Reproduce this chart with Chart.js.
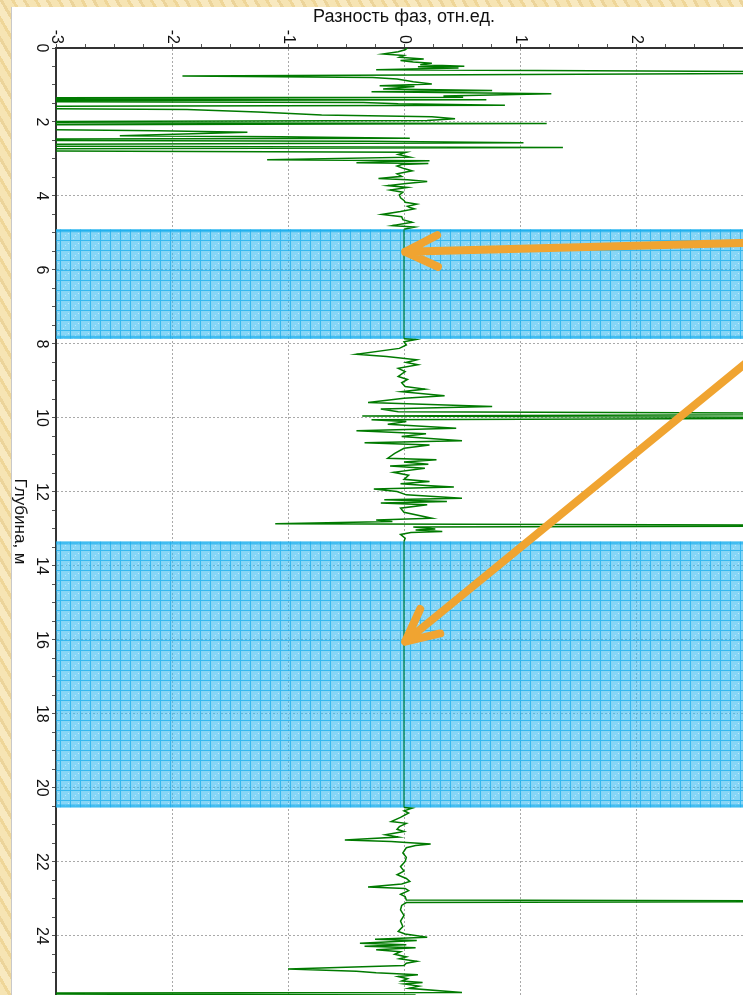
<!DOCTYPE html>
<html>
<head>
<meta charset="utf-8">
<script src="https://cdn.jsdelivr.net/npm/chart.js@4.4.0/dist/chart.umd.min.js"></script>
<style>
  body {
    margin: 0;
    width: 743px;
    height: 995px;
    overflow: hidden;
    position: relative;
    background: repeating-linear-gradient(60deg, #f6e4b3 0 7px, #efd698 7px 10px, #f8e9c0 10px 17px, #ecd49a 17px 20px);
  }
  #panel {
    position: absolute;
    left: 11px; top: 7px; right: 0; bottom: 0;
    background: #fff;
    border-left: 1px solid #c9c9c9;
  }
  #box {
    position: absolute;
    left: 0; top: 0;
    width: 770px; height: 1000px;
  }
</style>
</head>
<body>
<div id="panel"></div>
<div id="box"><canvas id="myChart"></canvas></div>
<script>
// depth, m (vertical axis, downwards)
var depth = [
  0.00, 0.05, 0.10, 0.16, 0.20, 0.25, 0.30, 0.34, 0.38, 0.41, 0.45, 0.49, 0.51, 0.54, 0.59, 0.665,
  0.76, 0.80, 0.84, 0.91, 0.97, 1.02, 1.04, 1.11, 1.15, 1.18, 1.24, 1.30, 1.33, 1.36, 1.40, 1.43,
  1.47, 1.51, 1.55, 1.59, 1.66, 1.73, 1.77, 1.81, 1.86, 1.91, 1.96, 2.01, 2.04, 2.10, 2.24, 2.28,
  2.37, 2.40, 2.44, 2.48, 2.52, 2.56, 2.63, 2.69, 2.75, 2.82, 2.88, 2.95, 3.02, 3.05, 3.08, 3.10,
  3.12, 3.15, 3.19, 3.26, 3.32, 3.40, 3.47, 3.53, 3.56, 3.61, 3.66, 3.72, 3.77, 3.84, 3.90, 3.97,
  4.05, 4.12, 4.17, 4.22, 4.28, 4.31, 4.35, 4.42, 4.50, 4.56, 4.64, 4.71, 4.80, 4.84, 4.89,
  4.90, 7.86,
  7.88, 7.94, 8.03, 8.12, 8.28, 8.34, 8.43, 8.50, 8.56, 8.66, 8.75, 8.88, 8.96, 9.05, 9.15, 9.22,
  9.29, 9.40, 9.47, 9.58, 9.69, 9.76, 9.83, 9.895, 9.95, 10.00, 10.05, 10.10, 10.17, 10.28, 10.35, 10.43,
  10.50, 10.62, 10.67, 10.73, 10.82, 10.96, 11.09, 11.13, 11.19, 11.25, 11.30, 11.36, 11.47, 11.55, 11.66, 11.72,
  11.78, 11.83, 11.87, 11.92, 11.99, 12.08, 12.17, 12.21, 12.26, 12.30, 12.35, 12.44, 12.55, 12.71, 12.76, 12.80,
  12.86, 12.91, 12.95, 13.00, 13.03, 13.07, 13.10, 13.15, 13.25, 13.34,
  20.53,
  20.55, 20.62, 20.68, 20.80, 20.91, 20.96, 21.05, 21.12, 21.18, 21.27, 21.33, 21.41, 21.45, 21.48, 21.52, 21.56,
  21.62, 21.76, 21.88, 21.99, 22.13, 22.25, 22.35, 22.45, 22.53, 22.60, 22.68, 22.72, 22.78, 22.88, 22.94, 23.03,
  23.065, 23.10, 23.18, 23.30, 23.45, 23.60, 23.75, 23.88, 23.95, 24.04, 24.09, 24.13, 24.20, 24.24, 24.28, 24.32,
  24.38, 24.43, 24.50, 24.57, 24.62, 24.69, 24.74, 24.80, 24.90, 24.96, 25.00, 25.05, 25.10, 25.16, 25.22, 25.26,
  25.30, 25.36, 25.42, 25.53, 25.56, 25.60
];
// phase difference, rel. units
var phase = [
  0.03, 0.01, -0.05, -0.18, 0.00, -0.04, 0.17, -0.03, 0.08, 0.24, 0.14, 0.52, 0.12, 0.47, -0.24, 5.0,
  -1.91, -0.27, -0.06, 0.08, 0.24, -0.21, 0.09, -0.18, 0.76, -0.28, 1.27, 0.34, 0.51, -6.0, 0.71, -6.0,
  -0.35, -0.05, 0.87, -6.0, -1.87, -1.26, -0.98, -0.71, 0.24, 0.44, 0.20, -6.0, 1.23, -6.0, -2.12, -1.35,
  -2.45, -1.07, 0.05, -6.0, -0.30, 1.03, -6.0, 1.37, -6.0, 0.02, -0.05, 0.05, -1.18, 0.22, -0.20, -0.41,
  0.21, -0.02, -0.06, 0.00, 0.07, -0.06, -0.02, -0.22, 0.03, 0.20, 0.02, -0.14, 0.03, -0.12, -0.01, -0.04,
  -0.03, 0.00, 0.01, 0.11, 0.03, 0.05, 0.09, -0.03, -0.19, -0.02, -0.01, 0.07, -0.10, 0.09, 0.01,
  0.00, 0.00,
  0.10, 0.00, 0.02, -0.04, -0.41, -0.15, 0.11, 0.02, 0.12, -0.05, 0.01, -0.05, 0.03, -0.02, 0.01, 0.18,
  -0.02, 0.35, 0.00, -0.31, 0.76, -0.20, -0.05, 5.0, -0.36, 5.0, -0.28, 0.02, -0.14, 0.45, -0.41, 0.19,
  -0.02, 0.50, -0.34, 0.22, 0.00, -0.08, -0.14, 0.28, 0.00, 0.21, -0.12, 0.18, -0.09, 0.04, 0.00, 0.22,
  -0.03, 0.19, 0.43, -0.26, -0.06, 0.02, 0.50, -0.17, 0.37, -0.20, 0.20, -0.03, 0.00, 0.24, -0.24, -0.10,
  -1.11, 5.0, 0.08, 0.27, 0.10, 0.33, 0.06, -0.03, 0.01, 0.00,
  0.00,
  0.07, 0.00, 0.04, -0.03, -0.11, 0.02, -0.04, -0.06, 0.00, -0.16, -0.05, -0.51, -0.11, 0.02, 0.23, 0.10,
  0.02, -0.01, 0.02, 0.01, -0.03, 0.00, -0.06, 0.02, 0.05, -0.02, -0.31, 0.01, 0.04, -0.03, 0.01, 0.02,
  5.0, 0.02, -0.02, -0.03, 0.00, -0.03, -0.01, -0.05, 0.01, 0.20, -0.25, 0.11, -0.38, 0.02, -0.34, 0.10,
  -0.24, -0.03, -0.08, 0.02, -0.04, 0.11, 0.02, 0.00, -1.00, -0.41, -0.24, 0.12, -0.05, 0.03, -0.02, 0.16,
  0.00, 0.13, 0.04, 0.50, -5.0, 0.10
];
// highlighted depth intervals, m
var bandTop = [4.9, 13.34];
var bandBottom = [7.86, 20.53];
// tick labels
var xLabels = [-3, -2, -1, 0, 1, 2, 3];
var yLabels = [0, 2, 4, 6, 8, 10, 12, 14, 16, 18, 20, 22, 24];
// arrows: [phase, depth] of tip and tail
var arrowTip = [[0.01, 5.51], [0.01, 16.05]];
var arrowTail = [[3.16, 5.25], [3.16, 7.97]];

var FONT = "'Liberation Sans', Arial, sans-serif";

var points = [];
for (var i = 0; i < depth.length; i++) {
    points.push({ x: phase[i], y: depth[i] });
}

function inBand(d0, d1) {
    for (var i = 0; i < bandTop.length; i++) {
        if (d0 >= bandTop[i] && d1 <= bandBottom[i]) return true;
    }
    return false;
}

// light blue squared fill for the bands
function makeHatch(ctx) {
    var c = document.createElement('canvas');
    c.width = 10;
    c.height = 10;
    var g = c.getContext('2d');
    g.fillStyle = 'rgba(60,187,240,0.62)';
    g.fillRect(0, 0, 10, 10);
    g.fillStyle = 'rgba(20,172,236,0.7)';
    g.fillRect(0, 0, 1, 10);
    g.fillRect(1, 0, 9, 1);
    g.fillStyle = 'rgba(255,255,255,0.5)';
    g.fillRect(5, 5, 1, 1);
    g.fillRect(3, 8, 1, 1);
    g.fillRect(8, 3, 1, 1);
    return ctx.createPattern(c, 'repeat');
}

function drawArrow(ctx, x1, y1, x2, y2) {
    var ang = Math.atan2(y1 - y2, x1 - x2);
    var head = 36, spread = 26 * Math.PI / 180;
    ctx.beginPath();
    ctx.moveTo(x1, y1);
    ctx.lineTo(x2, y2);
    ctx.moveTo(x2 + head * Math.cos(ang - spread), y2 + head * Math.sin(ang - spread));
    ctx.lineTo(x2, y2);
    ctx.lineTo(x2 + head * Math.cos(ang + spread), y2 + head * Math.sin(ang + spread));
    ctx.stroke();
}

var decor = {
    id: 'decor',
    beforeDatasetsDraw: function (chart) {
        var ctx = chart.ctx, a = chart.chartArea, ys = chart.scales.y;
        ctx.save();
        ctx.beginPath();
        ctx.rect(a.left, a.top, a.right - a.left, a.bottom - a.top);
        ctx.clip();
        var pat = makeHatch(ctx);
        for (var i = 0; i < bandTop.length; i++) {
            var t = ys.getPixelForValue(bandTop[i]);
            var b = ys.getPixelForValue(bandBottom[i]);
            ctx.fillStyle = pat;
            ctx.fillRect(a.left, t, a.right - a.left, b - t);
            ctx.fillStyle = 'rgba(20,172,236,0.6)';
            ctx.fillRect(a.left, t, a.right - a.left, 3);
            ctx.fillRect(a.left, b - 3, a.right - a.left, 3);
        }
        ctx.restore();
    },
    afterDraw: function (chart) {
        var ctx = chart.ctx, a = chart.chartArea;
        var xs = chart.scales.x, ys = chart.scales.y;
        ctx.save();
        ctx.fillStyle = '#111';
        ctx.font = '16px ' + FONT;
        // tick labels, turned 90 deg clockwise
        xLabels.forEach(function (v) {
            ctx.save();
            ctx.translate(xs.getPixelForValue(v), a.top - 4);
            ctx.rotate(Math.PI / 2);
            ctx.textAlign = 'right';
            ctx.textBaseline = 'middle';
            ctx.fillText(String(v), 0, 0);
            ctx.restore();
        });
        yLabels.forEach(function (v) {
            ctx.save();
            ctx.translate(a.left - 15, ys.getPixelForValue(v));
            ctx.rotate(Math.PI / 2);
            ctx.textAlign = 'center';
            ctx.textBaseline = 'middle';
            ctx.fillText(String(v), 0, 0);
            ctx.restore();
        });
        // depth axis title
        ctx.save();
        ctx.font = '17px ' + FONT;
        ctx.translate(20, (a.top + a.bottom) / 2);
        ctx.rotate(Math.PI / 2);
        ctx.textAlign = 'center';
        ctx.textBaseline = 'middle';
        ctx.fillText('Глубина, м', 0, 0);
        ctx.restore();
        // orange arrows
        ctx.strokeStyle = '#f0a431';
        ctx.lineWidth = 8;
        ctx.lineCap = 'round';
        ctx.lineJoin = 'round';
        for (var i = 0; i < arrowTip.length; i++) {
            drawArrow(ctx,
                xs.getPixelForValue(arrowTail[i][0]), ys.getPixelForValue(arrowTail[i][1]),
                xs.getPixelForValue(arrowTip[i][0]), ys.getPixelForValue(arrowTip[i][1]));
        }
        ctx.restore();
    }
};

var ctx = document.getElementById('myChart').getContext('2d');
window.myChart = new Chart(ctx, {
    type: 'scatter',
    data: {
        datasets: [{
            data: points,
            showLine: true,
            borderColor: '#007a00',
            borderWidth: 1.5,
            pointRadius: 0,
            tension: 0,
            segment: {
                borderColor: function (c) {
                    return inBand(c.p0.parsed.y, c.p1.parsed.y) ? '#0c8a60' : undefined;
                }
            }
        }]
    },
    options: {
        animation: false,
        responsive: true,
        maintainAspectRatio: false,
        events: [],
        layout: { padding: { left: 0, top: 0, right: 18, bottom: 5 } },
        plugins: {
            legend: { display: false },
            tooltip: { enabled: false }
        },
        scales: {
            x: {
                type: 'linear',
                position: 'top',
                min: -3,
                max: 3,
                ticks: { display: false, stepSize: 0.25 },
                grid: {
                    color: function (c) {
                        return c.tick && Number.isInteger(c.tick.value) ? '#a9a9a9' : 'rgba(0,0,0,0)';
                    },
                    tickColor: '#555',
                    tickLength: 4,
                    tickBorderDash: []
                },
                border: { display: true, color: '#333', width: 2, dash: [2, 2] },
                title: {
                    display: true,
                    text: 'Разность фаз, отн.ед.',
                    color: '#111',
                    font: { family: FONT, size: 18 },
                    padding: { top: 6, bottom: 0 }
                },
                afterFit: function (scale) { scale.height = 48; }
            },
            y: {
                type: 'linear',
                reverse: true,
                min: 0,
                max: 25.6,
                ticks: { display: false, stepSize: 0.5 },
                grid: {
                    color: function (c) {
                        return c.tick && c.tick.value % 2 === 0 ? '#a9a9a9' : 'rgba(0,0,0,0)';
                    },
                    tickColor: '#555',
                    tickLength: 4,
                    tickBorderDash: []
                },
                border: { display: true, color: '#333', width: 2, dash: [2, 2] },
                afterFit: function (scale) { scale.width = 56; }
            }
        }
    },
    plugins: [decor]
});
</script>
</body>
</html>
